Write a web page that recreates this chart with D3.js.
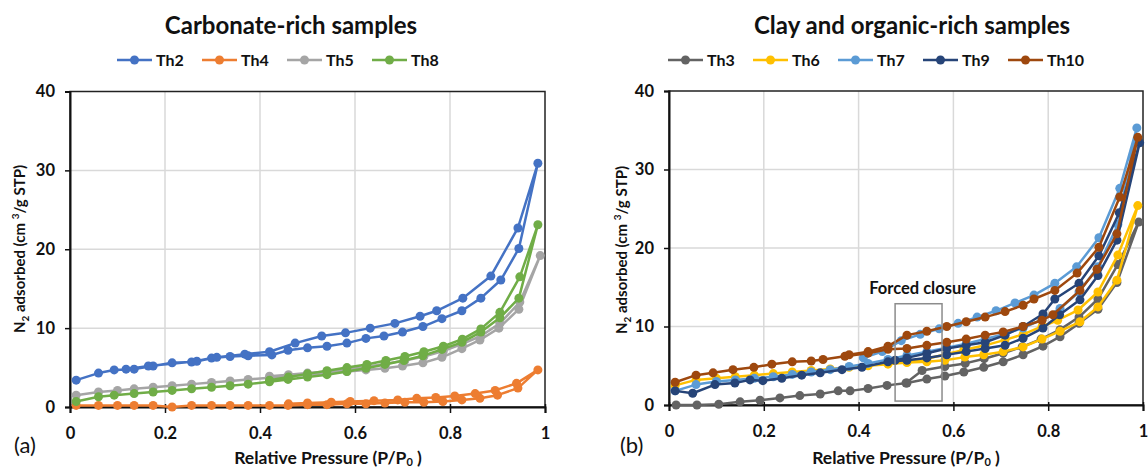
<!DOCTYPE html>
<html lang="en">
<head>
<meta charset="UTF-8">
<title>N2 isotherms</title>
<script src="https://cdnjs.cloudflare.com/ajax/libs/d3/7.8.5/d3.min.js"></script>
<style>
  body { margin: 0; background: #fff; }
  text { font-family: Lato, "Open Sans", sans-serif; }
</style>
</head>
<body>
<svg id="chart" width="1148" height="470"></svg>
<script>
// ---- data ----
const xTicks = [0, 0.2, 0.4, 0.6, 0.8, 1];
const yTicks = [0, 10, 20, 30, 40];

const leftNames = ["Th2", "Th4", "Th5", "Th8"];
const leftColors = ["#4472c4", "#ed7d31", "#a5a5a5", "#70ad47"];
const rightNames = ["Th3", "Th6", "Th7", "Th9", "Th10"];
const rightColors = ["#636363", "#ffc000", "#5b9bd5", "#264478", "#9e480e"];

// each sample: adsorption branch then desorption branch, [P/P0, volume]
const th2 = [[0.013,3.4],[0.06,4.3],[0.093,4.7],[0.135,4.8],[0.175,5.2],[0.215,5.6],[0.256,5.7],[0.298,6.2],[0.337,6.4],[0.375,6.5],[0.425,6.6],[0.459,7.2],[0.50,7.5],[0.541,7.7],[0.583,8.1],[0.623,8.7],[0.661,9.0],[0.70,9.5],[0.743,10.2],[0.783,11.2],[0.825,12.2],[0.865,13.8],[0.907,16.1],[0.945,20.1],[0.985,30.9],
  [0.943,22.7],[0.886,16.6],[0.827,13.8],[0.772,12.2],[0.737,11.5],[0.684,10.6],[0.632,10.0],[0.58,9.4],[0.53,9.0],[0.474,8.1],[0.42,7.0],[0.368,6.7],[0.309,6.3],[0.267,5.8],[0.165,5.2],[0.118,4.8]];
const th4 = [[0.013,0.2],[0.06,0.2],[0.1,0.2],[0.135,0.2],[0.175,0.2],[0.215,0.0],[0.256,0.2],[0.298,0.2],[0.337,0.2],[0.375,0.2],[0.42,0.2],[0.459,0.2],[0.50,0.3],[0.541,0.3],[0.583,0.4],[0.623,0.4],[0.663,0.5],[0.705,0.6],[0.745,0.6],[0.785,0.7],[0.825,0.9],[0.863,1.1],[0.90,1.5],[0.943,2.4],[0.985,4.7],
  [0.94,3.0],[0.895,2.1],[0.853,1.7],[0.81,1.4],[0.77,1.2],[0.73,1.1],[0.69,0.9],[0.64,0.8],[0.59,0.7],[0.55,0.6],[0.50,0.5],[0.46,0.4]];
const th5 = [[0.013,1.5],[0.06,1.9],[0.1,2.1],[0.135,2.3],[0.175,2.5],[0.215,2.7],[0.256,2.9],[0.298,3.1],[0.337,3.3],[0.375,3.5],[0.42,3.7],[0.459,3.9],[0.50,4.1],[0.541,4.3],[0.583,4.5],[0.623,4.7],[0.663,4.9],[0.70,5.2],[0.743,5.6],[0.783,6.3],[0.825,7.4],[0.863,8.5],[0.903,10.0],[0.945,12.4],[0.99,19.2],
  [0.947,13.3],[0.905,10.6],[0.865,9.0],[0.826,8.0],[0.786,7.1],[0.745,6.4],[0.705,5.9],[0.665,5.5],[0.625,5.1],[0.583,4.8],[0.541,4.5],[0.50,4.3],[0.46,4.1],[0.42,3.9]];
const th8 = [[0.013,0.7],[0.06,1.3],[0.093,1.5],[0.135,1.7],[0.175,1.9],[0.215,2.1],[0.256,2.3],[0.298,2.5],[0.337,2.7],[0.375,2.9],[0.42,3.2],[0.459,3.5],[0.50,3.8],[0.541,4.1],[0.583,4.5],[0.623,4.9],[0.663,5.4],[0.703,5.9],[0.743,6.5],[0.783,7.3],[0.825,8.2],[0.865,9.5],[0.905,11.3],[0.945,13.8],[0.985,23.1],
  [0.947,16.5],[0.905,12.0],[0.865,9.9],[0.826,8.6],[0.786,7.7],[0.745,7.0],[0.705,6.4],[0.665,5.9],[0.625,5.4],[0.583,5.0],[0.541,4.6],[0.50,4.2],[0.46,3.8],[0.42,3.4]];

const th3 = [[0.015,0.0],[0.059,0.0],[0.105,0.1],[0.15,0.4],[0.192,0.6],[0.234,0.9],[0.276,1.2],[0.319,1.4],[0.357,1.8],[0.382,1.8],[0.42,2.1],[0.46,2.5],[0.502,2.8],[0.544,3.3],[0.582,3.7],[0.622,4.2],[0.664,4.8],[0.705,5.5],[0.747,6.4],[0.789,7.5],[0.825,8.7],[0.865,10.4],[0.905,12.2],[0.945,15.6],[0.991,23.3],
  [0.947,17.9],[0.905,13.5],[0.865,11.2],[0.825,9.6],[0.785,8.4],[0.745,7.4],[0.705,6.6],[0.665,5.9],[0.625,5.3],[0.582,4.9],[0.534,4.4],[0.50,2.8]];
const th6 = [[0.013,2.5],[0.057,3.2],[0.1,3.4],[0.14,3.6],[0.18,3.8],[0.22,4.0],[0.26,4.2],[0.3,4.4],[0.34,4.6],[0.38,4.8],[0.42,5.0],[0.462,5.2],[0.502,5.4],[0.544,5.5],[0.582,5.7],[0.624,6.1],[0.664,6.4],[0.705,6.8],[0.747,7.4],[0.787,8.4],[0.825,9.4],[0.867,10.6],[0.905,12.5],[0.945,15.9],[0.989,25.4],
  [0.947,19.1],[0.905,14.4],[0.863,12.1],[0.82,10.8],[0.787,10.0],[0.747,9.0],[0.709,8.3],[0.667,7.6],[0.622,7.0],[0.586,6.5],[0.544,5.9],[0.502,5.5]];
const th7 = [[0.013,1.8],[0.057,2.6],[0.1,3.0],[0.14,3.2],[0.18,3.4],[0.22,3.6],[0.26,3.9],[0.3,4.2],[0.34,4.5],[0.38,4.9],[0.42,5.3],[0.462,5.8],[0.502,6.3],[0.544,6.8],[0.586,7.3],[0.627,7.8],[0.667,8.4],[0.705,9.0],[0.747,9.8],[0.787,10.9],[0.825,12.3],[0.865,14.4],[0.905,17.6],[0.947,23.0],[0.987,35.3],
  [0.951,27.6],[0.907,21.3],[0.86,17.6],[0.814,15.5],[0.77,14.0],[0.73,13.0],[0.69,12.0],[0.65,11.2],[0.61,10.4],[0.57,9.7],[0.53,9.0],[0.49,8.2],[0.45,6.8],[0.41,6.0]];
const th9 = [[0.013,1.8],[0.05,1.5],[0.097,2.6],[0.139,2.8],[0.171,3.2],[0.198,3.1],[0.238,3.4],[0.28,3.8],[0.319,4.1],[0.365,4.5],[0.407,4.8],[0.462,5.5],[0.502,5.7],[0.544,6.0],[0.586,6.4],[0.627,6.8],[0.667,7.2],[0.709,7.6],[0.747,8.5],[0.789,9.8],[0.824,11.5],[0.867,13.4],[0.905,16.5],[0.945,21.0],[0.993,33.4],
  [0.95,24.5],[0.907,19.0],[0.865,15.5],[0.814,13.5],[0.789,11.6],[0.747,10.0],[0.709,8.9],[0.667,8.0],[0.627,7.6],[0.586,7.2],[0.544,6.6],[0.502,6.0],[0.477,5.7]];
const th10 = [[0.013,2.9],[0.057,3.8],[0.093,4.1],[0.135,4.5],[0.179,4.8],[0.217,5.2],[0.26,5.5],[0.30,5.6],[0.325,5.8],[0.371,6.2],[0.42,6.6],[0.462,7.1],[0.502,7.2],[0.544,7.6],[0.586,8.0],[0.627,8.4],[0.667,8.9],[0.705,9.3],[0.747,10.0],[0.787,10.8],[0.81,11.5],[0.867,14.6],[0.903,17.3],[0.945,21.8],[0.989,34.1],
  [0.951,26.5],[0.907,20.1],[0.861,16.8],[0.814,14.6],[0.77,13.5],[0.747,12.7],[0.709,11.9],[0.667,11.2],[0.627,10.6],[0.586,10.0],[0.544,9.4],[0.502,8.9],[0.462,7.5],[0.42,6.8],[0.38,6.4]];

const leftSeries = [th2, th4, th5, th8];
const rightSeries = [th3, th6, th7, th9, th10];

const svg = d3.select("#chart");

function drawPanel(opt) {
  const x = d3.scaleLinear().domain([0, 1]).range([opt.x0, opt.x1]);
  const y = d3.scaleLinear().domain([0, 40]).range([opt.y0, opt.y1]);
  const g = svg.append("g");

  // grid
  g.selectAll(".vg").data(xTicks.slice(1, -1)).join("line")
    .attr("x1", d => x(d)).attr("x2", d => x(d))
    .attr("y1", opt.y1).attr("y2", opt.y0)
    .attr("stroke", "#d9d9d9").attr("stroke-width", 1.5);
  g.selectAll(".hg").data(yTicks.slice(1, -1)).join("line")
    .attr("x1", opt.x0).attr("x2", opt.x1)
    .attr("y1", d => y(d)).attr("y2", d => y(d))
    .attr("stroke", "#d9d9d9").attr("stroke-width", 1.5);

  // border
  g.append("rect").attr("x", opt.x0).attr("y", opt.y1)
    .attr("width", opt.x1 - opt.x0).attr("height", opt.y0 - opt.y1)
    .attr("fill", "none").attr("stroke", "#222").attr("stroke-width", 1.5);

  // axes
  const xAxis = g.append("g").attr("transform", `translate(0,${opt.y0})`)
    .call(d3.axisBottom(x).tickValues(xTicks).tickFormat(d3.format("")).tickSize(6).tickPadding(14));
  const yAxis = g.append("g").attr("transform", `translate(${opt.x0},0)`)
    .call(d3.axisLeft(y).tickValues(yTicks).tickSize(5).tickPadding(10));
  [xAxis, yAxis].forEach(a => {
    a.select(".domain").attr("stroke", "#111").attr("stroke-width", 2);
    a.selectAll(".tick line").attr("stroke", "#111").attr("stroke-width", 1.5);
    a.selectAll("text").attr("font-size", 16.5).attr("font-weight", 700).attr("fill", "#111")
      .style("font-family", "Lato, sans-serif");
  });
  xAxis.selectAll(".tick line").attr("y1", -3);

  // series
  const line = d3.line().x(d => x(d[0])).y(d => y(d[1]));
  opt.series.forEach((s, i) => {
    const sg = g.append("g");
    sg.append("path").attr("d", line(s)).attr("fill", "none")
      .attr("stroke", opt.colors[i]).attr("stroke-width", 2.5).attr("stroke-linejoin", "round");
    sg.selectAll("circle").data(s).join("circle")
      .attr("cx", d => x(d[0])).attr("cy", d => y(d[1])).attr("r", 4.5)
      .attr("fill", opt.colors[i]);
  });

  // title
  svg.append("text").attr("x", opt.titleX).attr("y", 34).attr("text-anchor", "middle")
    .attr("font-size", 24).attr("font-weight", 700).attr("fill", "#111").text(opt.title);

  // legend
  const lg = svg.append("g");
  opt.names.forEach((n, i) => {
    const lx = opt.legendX + i * 85;
    lg.append("line").attr("x1", lx).attr("x2", lx + 35).attr("y1", 60).attr("y2", 60)
      .attr("stroke", opt.colors[i]).attr("stroke-width", 2.5);
    lg.append("circle").attr("cx", lx + 17.5).attr("cy", 60).attr("r", 4.5).attr("fill", opt.colors[i]);
    lg.append("text").attr("x", lx + 39).attr("y", 65.5).attr("font-size", 16).attr("font-weight", 700)
      .attr("fill", "#111").text(n);
  });

  // y label
  const yl = svg.append("text").attr("transform", `translate(${opt.yLabelX},${opt.yLabelY}) rotate(-90)`)
    .attr("text-anchor", "middle").attr("font-size", 15).attr("font-weight", 700).attr("fill", "#111");
  yl.append("tspan").text("N");
  yl.append("tspan").attr("font-size", 10).attr("dy", 4).text("2");
  yl.append("tspan").attr("dy", -4).text(" adsorbed (cm ");
  yl.append("tspan").attr("font-size", 10).attr("dy", -6).text("3");
  yl.append("tspan").attr("dy", 6).text("/g STP)");

  // x label
  const xl = svg.append("text").attr("x", opt.xLabelX).attr("y", 464)
    .attr("text-anchor", "middle").attr("font-size", 17.5).attr("font-weight", 700).attr("fill", "#111");
  xl.append("tspan").text("Relative Pressure (P/P");
  xl.append("tspan").attr("font-size", 11).attr("dy", 2).text("0");
  xl.append("tspan").attr("dy", -2).text(" )");

  // panel letter
  svg.append("text").attr("x", opt.letterX).attr("y", 453).attr("font-size", 22)
    .attr("fill", "#111").text(opt.letter);

  return { x, y, g };
}

drawPanel({
  x0: 70, x1: 545, y0: 407, y1: 91.5,
  series: leftSeries, colors: leftColors, names: leftNames,
  title: "Carbonate-rich samples", titleX: 291, legendX: 117,
  yLabelX: 25, yLabelY: 249, xLabelX: 328, letter: "(a)", letterX: 14
});

const right = drawPanel({
  x0: 669, x1: 1143, y0: 405, y1: 91,
  series: rightSeries, colors: rightColors, names: rightNames,
  title: "Clay and organic-rich samples", titleX: 912, legendX: 668,
  yLabelX: 627, yLabelY: 250, xLabelX: 906, letter: "(b)", letterX: 620
});

// forced closure annotation
const fc = { x0: 0.477, x1: 0.576, y0: 0.5, y1: 12.9 };
right.g.append("rect")
  .attr("x", right.x(fc.x0)).attr("y", right.y(fc.y1))
  .attr("width", right.x(fc.x1) - right.x(fc.x0)).attr("height", right.y(fc.y0) - right.y(fc.y1))
  .attr("fill", "none").attr("stroke", "#8c8c8c").attr("stroke-width", 1.5);
right.g.append("text").attr("x", right.x(0.535)).attr("y", right.y(14.1))
  .attr("text-anchor", "middle").attr("font-size", 16.5).attr("font-weight", 700).attr("fill", "#111")
  .text("Forced closure");
</script>
</body>
</html>
